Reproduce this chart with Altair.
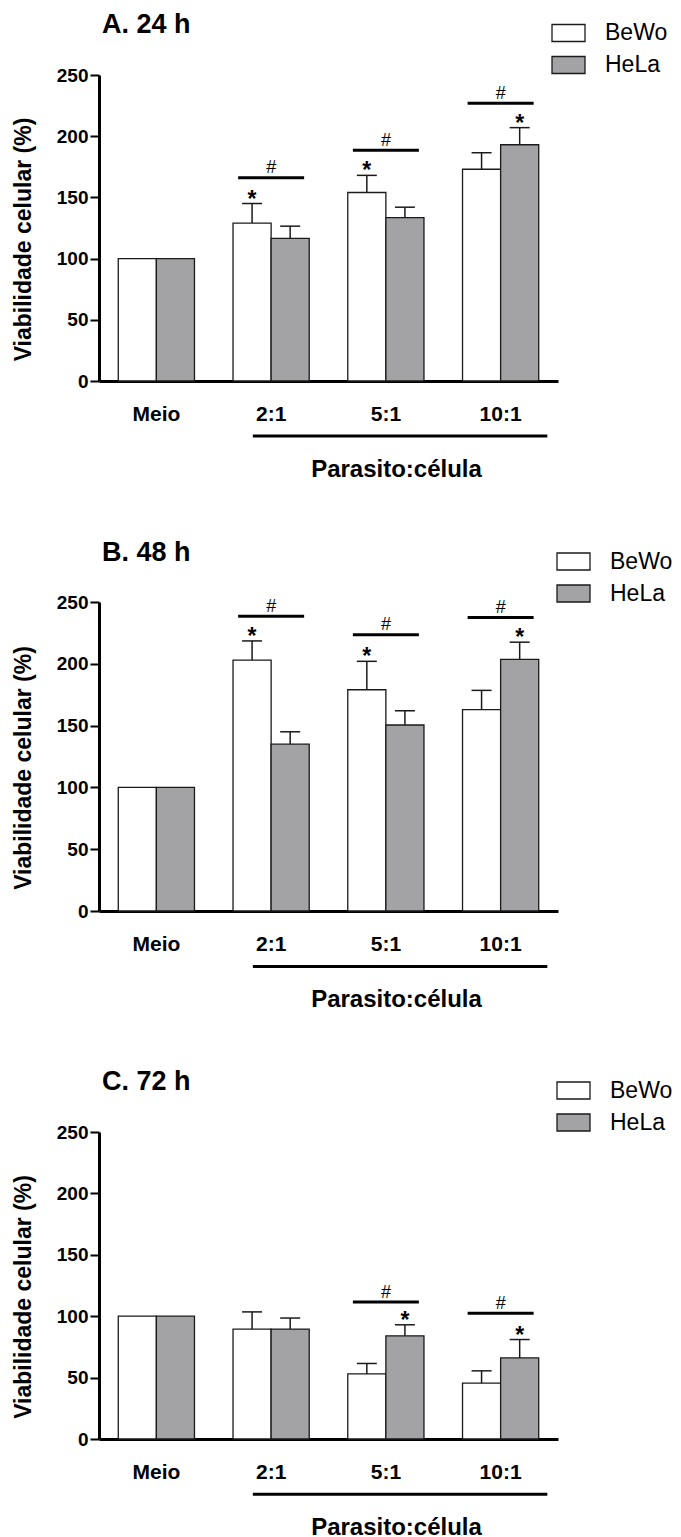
import altair as alt
import pandas as pd

cats = ["Meio", "2:1", "5:1", "10:1"]
series = ["BeWo", "HeLa"]
panel_titles = ["A. 24 h", "B. 48 h", "C. 72 h"]
y_ticks = [0, 50, 100, 150, 200, 250]

# 24 h
bewo_24 = [100, 129, 154, 173]
bewo_24_sem = [0, 16, 14, 13.5]
hela_24 = [100, 116.5, 133.5, 193]
hela_24_sem = [0, 10, 8.5, 14]
hash_24 = [None, 166, 188.5, 227]
stars_24 = [("2:1", "BeWo"), ("5:1", "BeWo"), ("10:1", "HeLa")]

# 48 h
bewo_48 = [100, 203, 179, 163]
bewo_48_sem = [0, 15.5, 23, 15.5]
hela_48 = [100, 135, 150.5, 203.5]
hela_48_sem = [0, 10, 11.5, 14]
hash_48 = [None, 238.5, 223.5, 237.5]
stars_48 = [("2:1", "BeWo"), ("5:1", "BeWo"), ("10:1", "HeLa")]

# 72 h
bewo_72 = [100, 89.5, 53, 45.5]
bewo_72_sem = [0, 14, 8.5, 10]
hela_72 = [100, 89.5, 84, 66]
hela_72_sem = [0, 9, 9, 15]
hash_72 = [None, None, 111.5, 102.5]
stars_72 = [("5:1", "HeLa"), ("10:1", "HeLa")]

FONT = "Liberation Sans"
INK = "#1a1a1a"
YTITLE = "Viabilidade celular (%)"
XTITLE = "Parasito:célula"


def panel(title, bewo, bewo_sem, hela, hela_sem, hashes, stars, h, lx, ly):
    rows = []
    for name, means, sems in (("BeWo", bewo, bewo_sem), ("HeLa", hela, hela_sem)):
        for c, m, s in zip(cats, means, sems):
            rows.append(dict(cat=c, series=name, mean=m, upper=m + s, sem=s))
    df = pd.DataFrame(rows)
    err_df = df[df["sem"] > 0]
    upper_of = {(r.cat, r.series): r.upper for r in df.itertuples()}
    star_df = pd.DataFrame([dict(cat=c, series=s, upper=upper_of[(c, s)]) for c, s in stars])
    hash_df = pd.DataFrame([dict(cat=c, sig=v) for c, v in zip(cats, hashes) if v is not None])
    bracket_df = pd.DataFrame([dict(start="2:1", end="10:1", yy=-45)])

    xscale = alt.Scale(domain=cats, paddingInner=0.336, paddingOuter=0.168)
    xaxis = alt.Axis(
        title=XTITLE, labelFont=FONT, labelFontSize=21, labelFontWeight="bold",
        labelColor="black", labelAngle=0, labelBaseline="alphabetic", labelPadding=39,
        ticks=False, domainWidth=3, domainColor="black",
        titleFont=FONT, titleFontSize=24, titleFontWeight="bold", titleColor="black",
        titleX=297, titleY=95, titleBaseline="alphabetic", titleAlign="center",
    )
    yscale = alt.Scale(domain=[0, 250], nice=False)
    yaxis = alt.Axis(
        title=YTITLE, values=y_ticks, grid=False,
        labelFont=FONT, labelFontSize=19, labelFontWeight="bold", labelColor="black",
        labelPadding=2, tickSize=9, tickWidth=2, tickColor="black",
        domainWidth=3, domainColor="black",
        titleFont=FONT, titleFontSize=23, titleFontWeight="bold", titleColor="black",
        titleAngle=-90, titleX=-69, titleY=h / 2 + 11, titleBaseline="alphabetic",
        titleAlign="center",
    )
    xoff = alt.XOffset("series:N", scale=alt.Scale(domain=series, paddingInner=0, paddingOuter=0))

    def X(field="cat:N"):
        return alt.X(field, sort=cats, scale=xscale, axis=xaxis, title=XTITLE)

    bars = alt.Chart(df).mark_bar(stroke=INK, strokeWidth=1.3).encode(
        x=X(),
        xOffset=xoff,
        y=alt.Y("mean:Q", scale=yscale, axis=yaxis, title=YTITLE),
        fill=alt.Fill(
            "series:N",
            scale=alt.Scale(domain=series, range=["#ffffff", "#a3a3a6"]),
            legend=alt.Legend(
                title=None, orient="none", legendX=lx, legendY=ly, padding=0,
                symbolType="M-1,-0.515H1V0.515H-1Z", symbolSize=1089,
                symbolStrokeColor=INK, symbolStrokeWidth=1.3,
                labelFont=FONT, labelFontSize=23, labelColor="black",
                labelOffset=19, rowPadding=2,
            ),
        ),
    )
    errs = alt.Chart(err_df).mark_rule(color=INK, strokeWidth=1.5).encode(
        x=X(), xOffset=xoff,
        y=alt.Y("mean:Q", scale=yscale, title=YTITLE), y2="upper:Q",
    )
    caps = alt.Chart(err_df).mark_tick(color=INK, thickness=1.5, size=20, opacity=1).encode(
        x=X(), xOffset=xoff, y=alt.Y("upper:Q", scale=yscale, title=YTITLE),
    )
    sig_lines = alt.Chart(hash_df).mark_tick(color="black", thickness=3, size=66, opacity=1).encode(
        x=X(), y=alt.Y("sig:Q", scale=yscale, title=YTITLE),
    )
    sig_text = alt.Chart(hash_df).mark_text(
        text="#", font=FONT, fontSize=18, color="black", baseline="alphabetic", dy=-4.5
    ).encode(x=X(), y=alt.Y("sig:Q", scale=yscale, title=YTITLE))
    star_text = alt.Chart(star_df).mark_text(
        text="*", font=FONT, fontSize=23, fontWeight="bold", color="black",
        baseline="alphabetic", dy=3,
    ).encode(x=X(), xOffset=xoff, y=alt.Y("upper:Q", scale=yscale, title=YTITLE))
    bracket = alt.Chart(bracket_df).mark_rule(color="black", strokeWidth=3, x2Offset=8.6).encode(
        x=alt.X("start:N", sort=cats, scale=xscale, axis=xaxis, title=XTITLE, bandPosition=0.26),
        x2=alt.X2("end:N", bandPosition=1),
        y=alt.Y("yy:Q", scale=yscale, title=YTITLE),
    )
    return alt.layer(bars, errs, caps, sig_lines, sig_text, star_text, bracket).properties(
        width=459, height=h,
        title=alt.TitleParams(
            text=title, anchor="start", frame="group", dx=3, dy=44, fontSize=27,
            fontWeight="bold", font=FONT, color="black", baseline="alphabetic", offset=0,
        ),
    )


pA = panel(panel_titles[0], bewo_24, bewo_24_sem, hela_24, hela_24_sem, hash_24, stars_24, 306, 452, -59.5)
pB = panel(panel_titles[1], bewo_48, bewo_48_sem, hela_48, hela_48_sem, hash_48, stars_48, 309, 457, -58)
pC = panel(panel_titles[2], bewo_72, bewo_72_sem, hela_72, hela_72_sem, hash_72, stars_72, 307, 457, -59)

chart = (
    alt.vconcat(pA, pB, pC, spacing=221, bounds="flush")
    .resolve_scale(fill="independent")
    .resolve_legend(fill="independent")
    .properties(padding={"left": 12, "top": 10, "right": 0, "bottom": 0})
    .configure_view(stroke=None)
    .configure_axis(grid=False)
)

chart.save("out.html", embed_options={"renderer": "svg", "actions": False})
